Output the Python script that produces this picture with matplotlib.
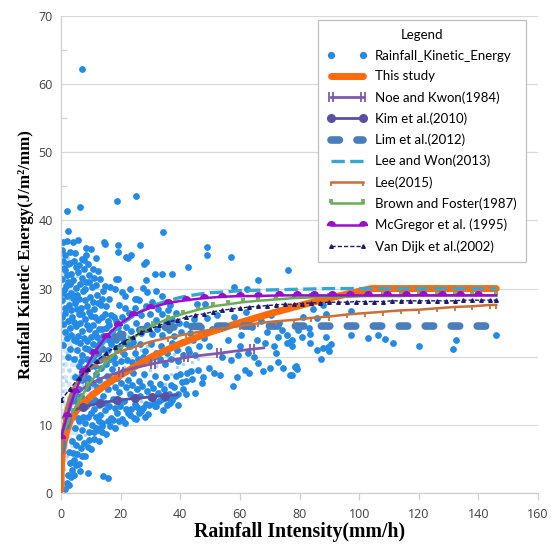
import numpy as np
import matplotlib
matplotlib.use("Agg")
import matplotlib.pyplot as plt
from matplotlib.path import Path
from matplotlib.lines import Line2D
from matplotlib.ticker import MultipleLocator

# ---------------- observed points (Rainfall intensity, kinetic energy) ----------------
obs_upper = [(7.0,62.2),(2.0,41.4),(6.4,42.0),(18.7,42.8),(25.1,43.6),(34.2,38.3),(2.3,38.5),(0.8,36.9),
    (2.0,37.0),(4.0,36.9),(5.7,37.1),(8.4,35.9),(10.0,35.8),(14.3,36.9),(14.8,36.5),(19.0,36.4),(19.0,35.3),
    (21.8,34.6),(22.4,34.5),(23.6,35.0),(26.4,36.4),(7.7,34.2),(8.4,34.9),(27.8,33.6),(28.4,33.9),(31.5,32.1),
    (33.9,32.1),(37.2,32.1),(12.4,32.6),(18.5,31.4),(19.2,31.4),(28.5,31.3),(49.0,36.1),(49.0,34.9),(57.0,34.6),
    (42.6,33.2),(76.1,32.7),(66.1,31.3),(31.9,29.6),(33.9,28.9),(58.0,30.2),(62.4,30.0),(45.6,27.7),(48.3,27.7),
    (36.6,27.6),(14.8,30.4),(16.4,30.3),(27.5,30.1),(28.8,29.5),(20.5,29.5),(21.5,28.9),(24.8,28.5),(25.6,28.5),
    (11.7,30.5)]
obs_core = [(0.3,35.6),(1.2,35.0),(3.1,35.4),(4.6,35.2),(0.6,34.1),(2.4,33.6),(4.3,34.0),(6.2,33.5),(1.4,32.7),
    (3.4,32.2),(5.6,32.4),(7.6,32.9),(9.4,32.0),(0.4,31.4),(2.3,30.9),(4.1,31.2),(6.4,30.6),(8.5,31.0),(10.4,30.2),
    (1.1,29.8),(3.2,29.4),(5.2,29.0),(7.3,29.6),(9.6,28.8),(12.2,29.1),(0.5,28.3),(2.6,27.6),(4.6,27.9),(6.6,27.2),
    (8.8,27.5),(11.0,27.0),(13.4,27.6),(1.5,26.4),(3.6,25.9),(5.9,26.2),(8.0,25.6),(10.1,26.0),(12.3,25.4),
    (14.6,26.2),(0.7,24.8),(2.9,24.2),(5.0,24.5),(7.1,23.8),(9.3,24.0),(11.5,23.5),(13.9,24.1),(16.2,24.6),
    (2.0,22.8),(4.2,22.4),(6.3,22.0),(8.6,22.3),(10.8,21.8),(13.0,22.1),(15.3,22.6),(17.6,23.0),(19.8,23.5)]
obs_core2 = [(0.9,33.0),(2.0,32.0),(3.0,33.8),(4.9,33.1),(6.9,34.4),(8.9,33.6),(10.9,32.9),(11.8,34.5),(13.2,31.4),
    (1.6,30.4),(3.0,30.7),(5.0,30.1),(7.0,31.5),(8.0,29.9),(9.4,30.9),(11.2,31.6),(13.8,28.4),(0.3,29.3),(1.9,28.9),
    (3.9,28.6),(6.1,28.4),(8.1,28.3),(10.6,28.0),(12.4,27.9),(15.2,27.4),(1.2,27.1),(3.3,26.9),(5.3,27.0),(7.2,26.3),
    (9.4,26.6),(11.5,25.8),(13.6,25.9),(15.8,25.2),(17.8,25.9),(0.4,25.8),(2.2,25.3),(4.3,25.1),(6.5,25.0),(8.7,24.6),
    (10.8,24.6),(12.8,24.0),(15.0,24.2),(17.2,23.7),(19.0,24.3),(1.3,23.6),(3.5,23.2),(5.7,23.1),(7.8,22.8),(9.9,22.9),
    (12.1,22.9),(14.2,23.1),(16.4,22.3),(18.6,22.4),(20.8,22.6),(0.8,21.7),(3.0,21.2),(5.1,22.3),(7.9,21.3),
    (10.0,20.8),(12.0,21.5),(14.2,21.2),(16.8,21.8),(18.7,21.0),(22.0,21.9),(24.0,22.2),(2.3,20.0),(4.5,19.6),
    (6.8,19.3),(8.6,19.6),(11.3,18.7),(13.0,19.5),(15.0,18.9),(16.4,19.6),(18.2,19.1),(20.0,19.4),(22.0,19.5),
    (23.9,19.2),(25.8,19.7),(27.6,19.9),(29.4,19.5),(31.2,19.9),(33.2,19.6),(35.0,18.9),(37.0,19.6),(39.2,19.3),
    (41.0,20.3),(43.0,20.7),(45.0,20.2)]
obs_mid = [(14.0,29.6),(16.2,28.4),(18.1,29.9),(19.6,27.6),(21.3,27.2),(22.8,26.4),(23.2,29.9),(24.8,27.2),
    (26.3,28.3),(26.9,26.1),(28.5,27.4),(29.8,26.2),(30.6,28.1),(31.8,25.4),(32.6,27.0),(33.9,26.2),(35.1,25.0),
    (35.8,26.8),(37.4,25.4),(38.6,26.4),(39.6,25.0),(16.9,26.1),(18.4,25.2),(20.3,25.8),(21.7,24.3),(23.4,23.8),
    (25.2,24.9),(27.0,23.5),(28.8,24.6),(30.4,23.3),(32.2,24.1),(34.0,23.2),(36.1,23.9),(38.0,23.0),(40.2,23.6),
    (41.8,24.8),(43.4,23.5),(44.6,25.6),(46.8,24.4),(48.9,25.7),(50.6,24.0),(52.4,26.1)]
obs_band = [(5.5,21.0),(7.2,20.2),(9.0,21.2),(10.6,19.6),(12.4,20.6),(14.1,19.8),(15.9,21.0),(17.7,20.0),
    (19.5,21.4),(21.2,20.4),(23.0,21.6),(24.8,20.6),(26.6,21.9),(28.3,20.8),(30.1,21.8),(31.9,20.6),(33.6,21.6),
    (35.4,20.5),(37.2,22.0),(39.0,21.0),(40.8,22.2),(42.6,21.2),(44.4,22.5),(46.2,21.5),(48.0,22.7),(49.8,21.6),
    (6.1,18.6),(8.0,17.8),(9.9,18.7),(11.7,17.4),(13.5,18.4),(15.3,17.2),(17.1,18.2),(18.9,16.9),(20.7,17.9),
    (22.5,16.6),(24.3,17.6),(26.1,16.4),(27.9,17.4),(29.7,16.2),(31.5,17.2),(33.3,16.0),(35.1,17.0),(36.9,15.9),
    (38.7,17.1),(40.5,16.3),(42.3,17.6),(44.1,16.8),(45.9,18.0),(47.7,17.0),(49.5,18.4),(51.3,17.6),(8.6,15.4),
    (10.4,14.6),(12.2,15.6),(14.0,14.2),(15.8,15.2),(17.6,13.8),(19.4,14.8),(21.2,13.5),(23.0,14.5),(24.8,13.1),
    (26.6,14.2),(28.4,13.0),(30.2,14.0),(32.0,12.8),(33.8,13.8),(35.6,12.9),(37.4,13.7),(39.2,14.6),(41.0,15.2),
    (11.1,12.4),(13.0,11.4),(14.9,12.2),(16.8,11.0),(18.7,11.8),(20.6,10.9),(22.5,11.7),(24.4,11.0),(26.3,11.8),
    (28.2,11.2),(3.0,4.4),(4.0,5.8),(5.0,7.0),(6.0,8.2),(7.0,9.3),(8.0,10.2),(9.5,9.0),(10.5,10.0),(11.8,9.6),
    (12.8,10.5),(4.6,9.6),(5.6,11.0),(6.8,12.6),(8.2,13.6),(3.6,7.7),(2.6,6.0)]
obs_band2 = [(4.8,17.0),(5.9,15.3),(7.1,16.6),(9.2,16.9),(10.8,16.2),(12.9,16.6),(14.6,16.0),(16.4,16.7),
    (18.0,15.6),(20.0,16.1),(21.8,15.6),(23.7,15.9),(25.4,15.3),(27.3,15.7),(29.0,15.0),(30.8,15.4),(32.6,14.7),
    (34.4,15.2),(36.2,14.6),(38.0,15.6),(40.0,17.4),(42.0,16.4),(43.6,17.9),(6.8,14.3),(8.4,12.8),(9.8,13.4),
    (11.3,13.7),(12.7,12.9),(14.6,13.2),(16.2,12.8),(18.0,12.5),(19.8,12.8),(21.8,12.4),(23.6,12.3),(25.6,12.6),
    (27.4,12.5),(29.4,12.9),(31.2,13.2),(33.0,13.5),(34.8,14.0),(36.6,13.9),(38.4,14.2),(5.1,13.5),(6.0,10.6),
    (7.4,11.1),(9.0,11.2),(10.2,11.7),(11.8,11.1),(13.8,10.2),(15.6,10.5),(17.6,10.7),(9.5,7.8),(11.0,8.9),
    (12.4,9.3),(13.9,9.8),(7.8,7.3),(6.7,6.6),(5.5,5.7),(4.4,4.9)]
obs_lower = [(1.3,0.6),(1.9,1.4),(2.6,1.2),(3.2,2.4),(4.2,2.6),(5.0,4.1),(6.2,4.2),(6.9,5.5),(8.1,5.4),
    (9.1,6.8),(10.2,6.5),(11.2,7.9),(12.6,7.7),(13.6,8.9),(15.2,8.6),(16.4,9.8),(18.1,9.5),(19.5,10.6),(21.4,10.2),
    (23.0,11.4),(25.1,10.9),(26.9,12.0),(29.3,11.6),(31.4,12.7),(34.1,12.2),(36.5,13.2),(39.4,12.9),(41.8,14.5),
    (44.8,14.7),(9.2,2.9),(14.2,2.5),(15.9,2.2),(3.6,3.4),(2.4,2.6),(6.4,3.2)]
obs_right = [(47.3,16.1),(53.3,17.3),(57.7,15.7),(59.0,17.0),(61.7,18.0),(63.1,17.6),(66.1,19.1),(67.8,17.9),
    (70.1,18.3),(72.8,19.2),(74.5,18.3),(76.8,17.3),(77.5,17.3),(78.5,18.5),(78.8,18.6),(79.2,18.2),(72.1,20.5),
    (68.4,22.0),(72.8,22.9),(75.8,23.2),(74.1,23.9),(76.8,22.2),(75.8,22.0),(77.5,22.5),(77.5,21.6),(79.5,23.9),
    (80.8,22.9),(83.5,22.0),(85.9,21.0),(87.9,21.3),(87.2,19.7),(89.6,21.4),(90.6,21.9),(90.0,20.8),(83.2,24.2),
    (83.5,23.3),(88.9,22.9),(97.3,23.2),(103.0,22.7),(106.3,23.2),(108.7,22.6),(111.4,22.0),(120.1,21.6),
    (132.5,22.5),(131.5,21.1),(145.9,23.2),(84.5,27.0),(87.9,27.6),(97.3,26.7),(88.9,26.3),(85.9,25.7),(81.2,25.8),
    (58.0,25.8),(60.5,23.2),(62.0,26.6),(64.0,24.3),(65.6,22.4),(67.0,25.2),(69.0,23.6),(70.6,26.1),(71.5,21.5),
    (73.0,25.0),(60.0,21.5),(62.8,20.6),(56.0,22.4),(54.0,20.0),(57.0,19.5),(59.5,20.2),(64.8,20.0)]
obs_texture = [(0.3,5),(0.8,7),(1.5,9),(0.4,11),(1.2,12.5),(2.2,14),(0.5,15),(1.6,16.5),(2.8,18),(0.6,19),
    (1.9,20.5),(3.2,21.5),(0.9,22.5),(2.4,23.5),(3.9,25),(0.5,26),(1.7,27),(3.0,28.5),(4.3,29.5),(0.8,30),
    (2.0,31.5),(3.5,32.5),(1.2,33.5),(2.5,34.5),(0.3,17),(0.7,13.5),(1.1,10),(2.6,11.5),(3.4,13),(4.0,15.5),
    (4.6,17.5),(3.6,19.5),(5.0,20),(4.5,23),(5.5,24.5),(5.8,27),(6.5,28.5),(1.4,24.5),(2.9,26),(4.1,27.2),
    (2.2,29.8),(3.8,31),(5.3,31.8),(1.0,3.5),(2.0,5.5),(2.9,7.5),(3.8,9.5),(4.8,11),(5.8,12.5),(6.6,14),
    (7.3,15.8),(5.6,16.5),(6.4,18.5),(7.8,19.5),(8,8.5),(10,9.8),(12,10.5),(14,11.5),(16,12.3),(18,13.2),(20,14),
    (22,15),(24,15.8),(26,16.5),(28,17),(30,18),(32,18.6),(34,19.2),(36,19.8),(38,20.4),(40,21),(42,20),(44,19.2),
    (46,19.6),(11,12.5),(13,13.8),(15,15),(17,16.2),(19,17.2),(21,18.5),(23,19.2),(25,20),(27,21),(29,21.5),
    (31,22.2),(9,13),(10.5,15.5),(12.5,17),(14.5,18.5),(16.5,19.5),(18.5,21),(20.5,22),(22.5,23),(25,12.5),
    (27,13.5),(29,14.5),(31,15.5),(33,15),(35,16),(37,17.5),(39,18.5),(41,19),(43,18),(19,10.8)]
obs_texture2 = [(0.4,4),(0.4,6),(0.4,8),(0.4,10),(0.4,12),(0.4,14),(0.4,16),(0.4,18),(0.4,20),(0.4,22),(0.4,24),
    (0.4,26),(0.4,28),(0.4,30),(0.4,32),(1.5,5),(1.5,7),(1.5,9),(1.5,11),(1.5,13),(1.5,15),(1.5,17),(1.5,19),
    (1.5,21),(1.5,23),(1.5,25),(1.5,27),(1.5,29),(1.5,31),(1.5,33),(2.6,6),(2.6,8),(2.6,10),(2.6,12),(2.6,14),
    (2.6,16),(2.6,18),(2.6,20),(2.6,22),(2.6,24),(2.6,26),(2.6,28),(2.6,30),(2.6,32),(3.7,7),(3.7,9),(3.7,11),
    (3.7,13),(3.7,15),(3.7,17),(3.7,19),(3.7,21),(3.7,23),(3.7,25),(3.7,27),(3.7,29),(3.7,31),(4.8,9),(4.8,11),
    (4.8,13),(4.8,15),(4.8,17),(4.8,19),(4.8,21),(4.8,23),(4.8,25),(4.8,27),(4.8,29)]

# ---------------- fitted relations ----------------
study_x = [0.0, 0.1, 0.3, 0.6, 1, 2, 3, 5, 7, 10, 15, 20, 25, 30, 40, 50, 60, 70, 80, 90, 100, 104, 146]
study_y = [0.5, 3.5, 5.0, 6.3, 7.4, 9.2, 10.5, 12.0, 13.0, 14.2, 15.9, 17.3, 18.6, 19.9, 21.9, 23.6, 25.0,
           26.3, 27.5, 28.6, 29.6, 30.0, 30.0]
noe_x = [0.8, 3, 6, 9, 12, 15, 20, 25, 31, 36, 42, 47, 53, 58, 64, 68]
noe_y = [11.1, 13.5, 14.9, 15.8, 16.5, 17.1, 17.8, 18.4, 19.0, 19.4, 19.9, 20.2, 20.5, 20.8, 21.1, 21.3]
kim_x = [4.5, 7.4, 13, 18.8, 24.8, 30.5, 35, 39]
kim_y = [12.2, 12.6, 13.2, 13.6, 13.9, 14.1, 14.3, 14.4]
lim_x = [0, 1, 2, 3, 4, 5, 6, 8, 10, 12, 15, 18, 22, 26, 30, 35, 40, 50, 60, 80, 100, 120, 146]
lim_y = [6.1, 8.4, 10.3, 12.1, 13.6, 14.9, 16.1, 18.0, 19.5, 20.6, 21.9, 22.7, 23.5, 23.9, 24.1, 24.3, 24.4,
         24.5, 24.5, 24.5, 24.5, 24.5, 24.5]
leewon_x = [0, 2, 4, 6, 8, 10, 13, 16, 20, 25, 30, 35, 40, 45, 50, 55, 60, 70, 80, 90, 100, 146]
leewon_y = [8.4, 11.2, 13.7, 15.8, 17.7, 19.3, 21.3, 23.0, 24.7, 26.2, 27.4, 28.1, 28.7, 29.1, 29.4, 29.5,
            29.7, 29.8, 29.9, 30.0, 30.0, 30.0]
lee_x = [0.05, 0.1, 0.2, 0.4, 0.7, 1, 1.5, 2, 3, 4, 6, 9, 12, 16, 20, 25, 30, 36, 42, 48, 54, 60, 66, 72, 78,
         84, 90, 96, 102, 108, 114, 120, 126, 132, 138, 144, 146]
lee_y = [0.2, 2.6, 5.0, 7.4, 9.3, 10.5, 11.9, 12.9, 14.3, 15.3, 16.7, 18.0, 19.0, 20.0, 20.8, 21.5, 22.2, 22.8,
         23.3, 23.8, 24.2, 24.5, 24.9, 25.2, 25.4, 25.7, 25.9, 26.2, 26.4, 26.6, 26.8, 26.9, 27.1, 27.3, 27.4,
         27.6, 27.6]
brown_x = [0, 2, 4, 6, 9, 12, 15, 19, 23, 27, 31, 36, 41, 46, 51, 56, 61, 66, 72, 78, 84, 90, 96, 102, 108,
           114, 120, 126, 132, 138, 146]
brown_y = [8.1, 10.1, 11.9, 13.5, 15.7, 17.5, 19.1, 20.9, 22.4, 23.6, 24.6, 25.6, 26.3, 26.9, 27.4, 27.7,
           28.0, 28.2, 28.4, 28.6, 28.7, 28.8, 28.8, 28.9, 28.9, 28.9, 29.0, 29.0, 29.0, 29.0, 29.0]
mcg_x = [0, 2, 4.7, 7.5, 11, 15, 19, 24, 30, 36, 42, 48, 54, 60, 66, 73, 79, 85, 91, 97, 103, 109.5, 115.7,
         121.5, 127.7, 133.8, 140, 146]
mcg_y = [8.1, 11.3, 14.8, 17.7, 20.5, 22.9, 24.6, 26.1, 27.2, 27.9, 28.3, 28.6, 28.8, 28.9, 28.9, 29.0, 29.0,
         29.0, 29.0, 29.0, 29.0, 29.0, 29.0, 29.0, 29.0, 29.0, 29.0, 29.0]
vd_x = [0, 3, 6, 9, 12, 15, 18, 21, 24, 27, 30, 33, 36, 39, 42, 45, 48, 51, 54, 57, 60, 63, 66, 69, 72, 75,
        78, 81, 84, 87, 90, 93, 96, 99, 102, 105, 108, 111, 114, 117, 120, 123, 126, 129, 132, 135, 138, 141,
        144, 146]
vd_y = [13.6, 15.3, 16.9, 18.2, 19.4, 20.5, 21.4, 22.2, 22.9, 23.6, 24.1, 24.6, 25.1, 25.4, 25.8, 26.1, 26.3,
        26.6, 26.8, 27.0, 27.1, 27.3, 27.4, 27.5, 27.6, 27.7, 27.7, 27.8, 27.9, 27.9, 28.0, 28.0, 28.0, 28.1,
        28.1, 28.1, 28.1, 28.2, 28.2, 28.2, 28.2, 28.2, 28.2, 28.2, 28.2, 28.3, 28.3, 28.3, 28.3, 28.3]

x_ticks = [0, 20, 40, 60, 80, 100, 120, 140, 160]
y_ticks = [0, 10, 20, 30, 40, 50, 60, 70]

# ---------------- figure ----------------
fig = plt.figure(figsize=(5.52, 5.55), dpi=100)
ax = fig.add_axes([61/552, 62/555, 477/552, 477/555])
ax.set_xlim(0, 160)
ax.set_ylim(0, 70)

tex2 = np.array(obs_texture2).T
ax.scatter(tex2[0], tex2[1], s=16, c="#d3e7f8", linewidths=0, zorder=1.4)
tex = np.array(obs_texture).T
ax.scatter(tex[0], tex[1], s=6, c="#a9d2f3", linewidths=0, zorder=1.5)
big = np.array(obs_upper + obs_core + obs_core2 + obs_mid + obs_band + obs_band2 + obs_lower + obs_right).T
ax.scatter(big[0], big[1], s=24, c="#238ae6", linewidths=0, zorder=2)

# custom marker paths
noe_marker = Path([(-0.35, -1), (-0.35, 1), (0.35, -1), (0.35, 1)],
                  [Path.MOVETO, Path.LINETO, Path.MOVETO, Path.LINETO])
lee_marker = Path([(0, 0), (0, -1), (0, 1)], [Path.MOVETO, Path.LINETO, Path.MOVETO])
brown_marker = Path([(-0.35, 0), (-0.35, 1), (0.35, 0), (0.35, 1), (0, -1)],
                    [Path.MOVETO, Path.LINETO, Path.MOVETO, Path.LINETO, Path.MOVETO])
semi = Path.wedge(0, 180)

c_study = "#ff6a0d"; c_noe = "#7e5aa8"; c_kim = "#5b4fa1"; c_lim = "#4a7ebb"
c_leewon = "#35a6d0"; c_lee = "#c8703a"; c_brown = "#6aaa58"; c_mcg = "#9a0dca"; c_vd = "#1c1c6b"

l_study, = ax.plot(study_x, study_y, color=c_study, lw=5, solid_capstyle="round", zorder=3)
l_noe, = ax.plot(noe_x, noe_y, color=c_noe, lw=2, marker=noe_marker, ms=6.5, mew=1.3,
                 markevery=[3, 6, 8, 10, 12, 14], zorder=4)
l_kim, = ax.plot(kim_x, kim_y, color=c_kim, lw=2, marker="o", ms=5.5, markevery=[1, 2, 3, 4, 5, 6], zorder=4)
l_lim, = ax.plot(lim_x, lim_y, color=c_lim, lw=5.5, dash_capstyle="round", zorder=4)
l_lim.set_dashes((1.1, 2.3))
l_leewon, = ax.plot(leewon_x, leewon_y, color=c_leewon, lw=2.4, zorder=4)
l_leewon.set_dashes((4, 1.6))
l_lee, = ax.plot(lee_x, lee_y, color=c_lee, lw=1.8, marker=lee_marker, ms=6, mew=1.3,
                 markevery=list(range(10, 37)), zorder=4)
l_brown, = ax.plot(brown_x, brown_y, color=c_brown, lw=1.8, marker=brown_marker, ms=6, mew=1.3,
                   markevery=list(range(1, 31)), zorder=4)
l_mcg, = ax.plot(mcg_x, mcg_y, color=c_mcg, lw=1.8, marker=semi, ms=5.5, markevery=list(range(0, 27)), zorder=4)
l_vd, = ax.plot(vd_x, vd_y, color=c_vd, lw=1.0, ls=(0, (3, 1.5)), marker="^", ms=2.6,
                markevery=list(range(0, 50)), zorder=4)

# axes styling
ax.set_xticks(x_ticks)
ax.set_yticks(y_ticks)
ax.yaxis.set_minor_locator(MultipleLocator(5))
ax.grid(axis="y", which="major", color="#d9d9d9", lw=0.9, zorder=0)
ax.set_axisbelow(True)
for s in ["top", "right"]:
    ax.spines[s].set_visible(False)
for s in ["left", "bottom"]:
    ax.spines[s].set_color("#d0d0d0")
    ax.spines[s].set_linewidth(0.9)
tick_font = "Open Sans"
ax.tick_params(axis="x", which="major", direction="out", length=5, width=0.9, color="#d0d0d0",
               pad=5.5, labelsize=9, labelcolor="#404040")
ax.tick_params(axis="y", which="major", direction="in", length=0, pad=6, labelsize=9, labelcolor="#404040")
ax.tick_params(axis="y", which="minor", direction="in", length=4, width=0.9, color="#d0d0d0")
for lab in ax.get_xticklabels() + ax.get_yticklabels():
    lab.set_fontfamily(tick_font)

ax.set_xlabel("Rainfall Intensity(mm/h)", fontdict=dict(family="Liberation Serif", weight="bold", size=14.2),
              labelpad=1.0)
ax.set_ylabel("Rainfall Kinetic Energy(J/m\u00b2/mm)",
              fontdict=dict(family="Liberation Serif", weight="bold", size=12.2), labelpad=3)

# legend
h_scatter = Line2D([], [], ls="none", marker="o", ms=4.2, color="#238ae6")
handles = [h_scatter, l_study, l_noe, l_kim, l_lim, l_leewon, l_lee, l_brown, l_mcg, l_vd]
labels = ["Rainfall_Kinetic_Energy", "This study", "Noe and Kwon(1984)", "Kim et al.(2010)",
          "Lim et al.(2012)", "Lee and Won(2013)", "Lee(2015)", "Brown and Foster(1987)",
          "McGregor et al. (1995)", "Van Dijk et al.(2002)"]
leg = ax.legend(handles, labels, loc="upper left", bbox_to_anchor=(0.539, 0.992), title="Legend",
                prop=dict(family="Lato", size=9.5), title_fontproperties=dict(family="Lato", size=9.5),
                numpoints=2, frameon=True, fancybox=False, edgecolor="#bfbfbf", framealpha=1,
                borderpad=0.7, labelspacing=0.66, handlelength=3.0, handletextpad=0.6, borderaxespad=0)
leg.get_frame().set_linewidth(0.9)
leg.set_zorder(10)

fig.savefig("out.png", dpi=100)
